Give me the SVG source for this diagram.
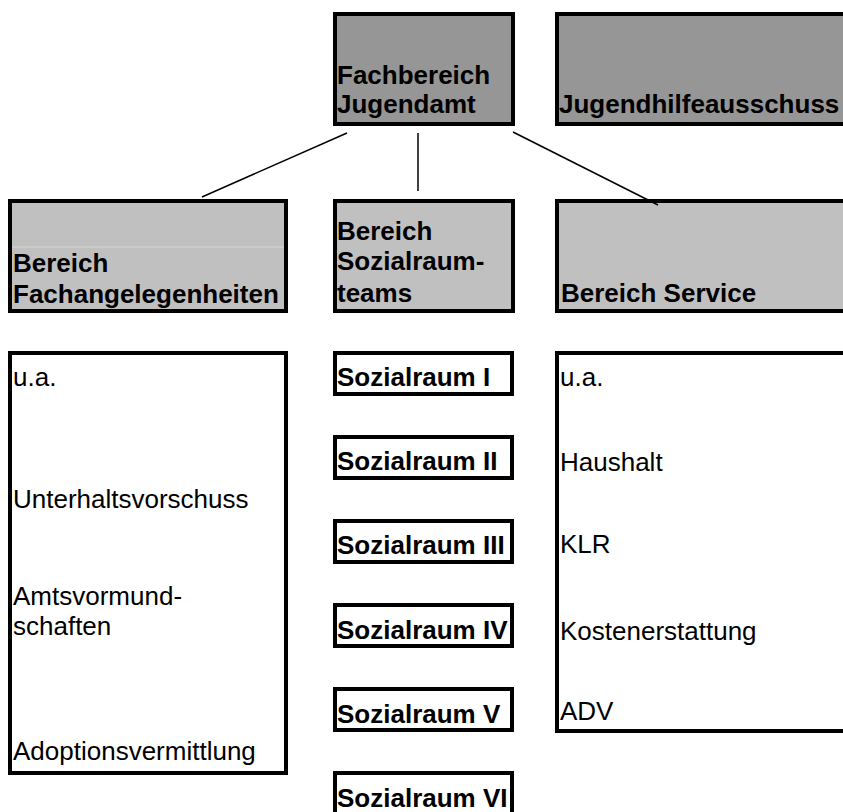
<svg xmlns="http://www.w3.org/2000/svg" width="843" height="812" viewBox="0 0 843 812">
<style>
  .box { stroke: #000; stroke-width: 4; }
  .dark { fill: #969696; }
  .light { fill: #c0c0c0; }
  .white { fill: #ffffff; }
  .b { font-family: "Liberation Sans", Arial, sans-serif; font-size: 26px; font-weight: bold; fill: #000; }
  .r { font-family: "Liberation Sans", Arial, sans-serif; font-size: 26px; fill: #000; }
  .conn { stroke: #000; stroke-width: 1.5; fill: none; }
</style>
<rect width="843" height="812" fill="#ffffff"/>
<g id="fachbereich">
  <rect class="box dark" x="335" y="14" width="178" height="110"/>
  <text class="b" x="337" y="84">Fachbereich</text>
  <text class="b" x="337" y="113">Jugendamt</text>
</g>
<g id="jugendhilfeausschuss">
  <rect class="box dark" x="557" y="14" width="300" height="110"/>
  <text class="b" x="559" y="113">Jugendhilfeausschuss</text>
</g>
<g id="fachangelegenheiten">
  <rect class="box light" x="10" y="201" width="276" height="110"/>
  <line x1="12" y1="247" x2="284" y2="247" stroke="#d6d6d6" stroke-width="1"/>
  <text class="b" x="13" y="272">Bereich</text>
  <text class="b" x="13" y="303">Fachangelegenheiten</text>
</g>
<g id="sozialraumteams">
  <rect class="box light" x="335" y="201" width="178" height="110"/>
  <text class="b" x="337" y="240">Bereich</text>
  <text class="b" x="337" y="270">Sozialraum-</text>
  <text class="b" x="337" y="302">teams</text>
</g>
<g id="service">
  <rect class="box light" x="557" y="201" width="300" height="110"/>
  <text class="b" x="561" y="302">Bereich Service</text>
</g>
<g id="fach-liste">
  <rect class="box white" x="10" y="353" width="276" height="420"/>
  <text class="r" x="13" y="386">u.a.</text>
  <text class="r" x="13" y="508">Unterhaltsvorschuss</text>
  <text class="r" x="13" y="605">Amtsvormund-</text>
  <text class="r" x="13" y="635">schaften</text>
  <text class="r" x="13" y="760">Adoptionsvermittlung</text>
</g>
<g id="sozialraum-1">
  <rect class="box white" x="335" y="353" width="177" height="41"/>
  <text class="b" x="337" y="386">Sozialraum I</text>
</g>
<g id="sozialraum-2">
  <rect class="box white" x="335" y="437" width="177" height="41"/>
  <text class="b" x="337" y="470">Sozialraum II</text>
</g>
<g id="sozialraum-3">
  <rect class="box white" x="335" y="521" width="177" height="41"/>
  <text class="b" x="337" y="554">Sozialraum III</text>
</g>
<g id="sozialraum-4">
  <rect class="box white" x="335" y="605" width="177" height="41"/>
  <text class="b" x="337" y="639">Sozialraum IV</text>
</g>
<g id="sozialraum-5">
  <rect class="box white" x="335" y="689" width="177" height="41"/>
  <text class="b" x="337" y="723">Sozialraum V</text>
</g>
<g id="sozialraum-6">
  <rect class="box white" x="335" y="773" width="177" height="41"/>
  <text class="b" x="337" y="807">Sozialraum VI</text>
</g>
<g id="service-liste">
  <rect class="box white" x="557" y="353" width="300" height="378"/>
  <text class="r" x="560" y="386">u.a.</text>
  <text class="r" x="560" y="471">Haushalt</text>
  <text class="r" x="560" y="553">KLR</text>
  <text class="r" x="560" y="640">Kostenerstattung</text>
  <text class="r" x="560" y="720">ADV</text>
</g>
<g id="connectors">
  <line class="conn" x1="347" y1="133" x2="202" y2="197"/>
  <line class="conn" x1="418" y1="133" x2="418" y2="191"/>
  <line class="conn" x1="513" y1="132" x2="658" y2="205"/>
</g>
</svg>
